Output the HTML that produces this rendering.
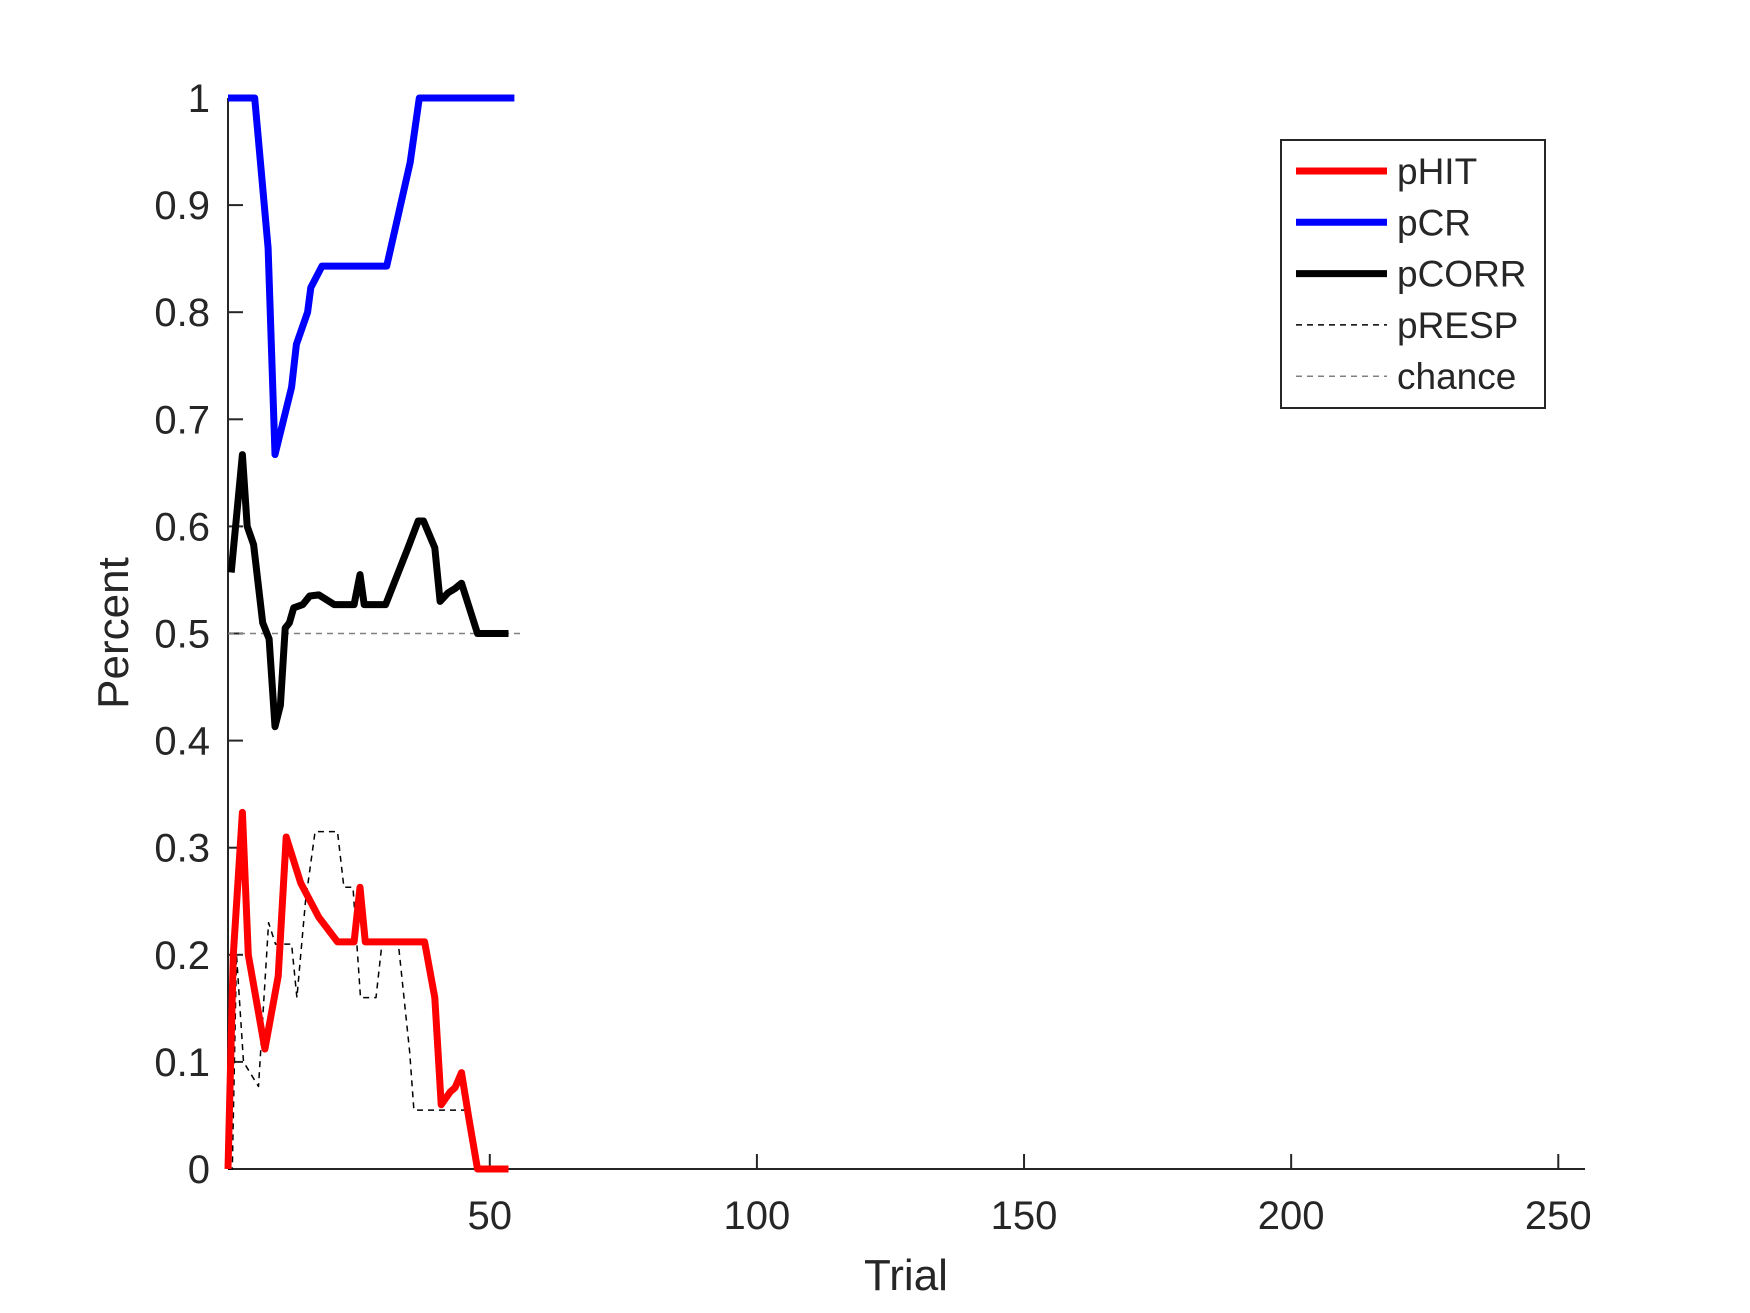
<!DOCTYPE html>
<html><head><meta charset="utf-8"><style>html,body{margin:0;padding:0;background:#fff}svg{display:block}text{font-family:"Liberation Sans",sans-serif;fill:#262626}</style></head>
<body>
<svg id="chart" width="1750" height="1313" viewBox="0 0 1750 1313" xmlns="http://www.w3.org/2000/svg">
<g id="axes"></g>
<g id="series"></g>
<g id="legend"></g>
</svg>
<script>
const xTicks = [50, 100, 150, 200, 250];
const yTicks = [0, 0.1, 0.2, 0.3, 0.4, 0.5, 0.6, 0.7, 0.8, 0.9, 1];
const yTickLabels = ["0","0.1","0.2","0.3","0.4","0.5","0.6","0.7","0.8","0.9","1"];
const pCR_x = [1,6,8.5,9.8,12.9,13.8,15.9,16.5,18.6,30.7,35.1,36.8,54.6];
const pCR_y = [1,1,0.86,0.667,0.73,0.77,0.80,0.823,0.843,0.843,0.94,1,1];
const pCORR_x = [1.6,3.7,4.6,5.8,7.5,8.7,9.8,10.8,11.7,12.5,13.3,15,16.3,18,20.9,24.6,25.7,26.5,30.5,34.7,36.6,37.6,39.7,40.7,42.2,43.5,44.7,47.7,53.5];
const pCORR_y = [0.557,0.667,0.60,0.583,0.51,0.495,0.413,0.433,0.505,0.51,0.524,0.527,0.535,0.536,0.527,0.527,0.555,0.527,0.527,0.58,0.605,0.605,0.58,0.53,0.538,0.542,0.547,0.5,0.5];
const pHIT_x = [1,2,3.7,4.8,7.9,10.4,11.9,14.6,18,21.5,24.6,25.7,26.7,37.8,39.7,40.9,42.6,43.5,44.7,46,47.7,53.5];
const pHIT_y = [0,0.2,0.333,0.2,0.112,0.18,0.31,0.267,0.235,0.212,0.212,0.263,0.212,0.212,0.16,0.06,0.072,0.076,0.09,0.05,0,0];
const pRESP_x = [1,1.8,2.6,3.9,6.7,8.6,9.9,12.9,13.9,15.5,17.3,21.5,22.7,24.4,25.8,28.7,29.8,32.9,35,35.8,46.2,47.2,53.5];
const pRESP_y = [0,0,0.2,0.1,0.077,0.23,0.21,0.21,0.16,0.25,0.315,0.315,0.263,0.263,0.16,0.16,0.21,0.21,0.11,0.055,0.055,0,0];
const chance_x = [1, 55.8];
const chance_y = [0.5, 0.5];
const legendLabels = ["pHIT","pCR","pCORR","pRESP","chance"];

const L=228,R=1585,T=98,B=1169,X0=1,X1=255;
const sx=v=>L+(v-X0)/(X1-X0)*(R-L);
const sy=v=>B-v*(B-T);
const NS="http://www.w3.org/2000/svg";
function mk(tag,attrs,parent){const e=document.createElementNS(NS,tag);for(const k in attrs)e.setAttribute(k,attrs[k]);parent.appendChild(e);return e;}
const axes=document.getElementById('axes'),series=document.getElementById('series'),legend=document.getElementById('legend');

let a=mk('line',{x1:L,y1:B,x2:R,y2:B,stroke:'#262626','stroke-width':2},axes);

a=mk('line',{x1:L,y1:T,x2:L,y2:B,stroke:'#262626','stroke-width':2},axes);

xTicks.forEach(v=>{
 const t=mk('line',{x1:sx(v),y1:B,x2:sx(v),y2:B-15,stroke:'#262626','stroke-width':2},axes);
 
 const l=mk('text',{x:sx(v),y:B+60,'text-anchor':'middle','font-size':40},axes);l.textContent=v;
 
});
yTicks.forEach((v,i)=>{
 const t=mk('line',{x1:L,y1:sy(v),x2:L+15,y2:sy(v),stroke:'#262626','stroke-width':2},axes);
 
 const l=mk('text',{x:L-18,y:sy(v)+14,'text-anchor':'end','font-size':40},axes);l.textContent=yTickLabels[i];
 
});
let xt=mk('text',{x:906,y:1290,'text-anchor':'middle','font-size':44},axes);xt.textContent='Trial';

let yt=mk('text',{x:0,y:0,'text-anchor':'middle','font-size':44,transform:'translate(128,633) rotate(-90)'},axes);yt.textContent='Percent';


function line(xs,ys,stroke,w,dash,name){
 const pts=xs.map((x,i)=>sx(x).toFixed(1)+','+sy(ys[i]).toFixed(1)).join(' ');
 const p=mk('polyline',{points:pts,fill:'none',stroke:stroke,'stroke-width':w,'stroke-linejoin':'round'},series);
 if(dash)p.setAttribute('stroke-dasharray',dash);
 
}
line(chance_x,chance_y,'#808080',1.5,'6,5','chance-line');
line(pRESP_x,pRESP_y,'#000',1.5,'6,5','presp-line');
line(pCR_x,pCR_y,'#0000ff',7,null,'pcr-line');
line(pCORR_x,pCORR_y,'#000',7,null,'pcorr-line');
line(pHIT_x,pHIT_y,'#ff0000',7,null,'phit-line');

let box=mk('rect',{x:1281,y:140,width:264,height:268,fill:'#fff',stroke:'#262626','stroke-width':2},legend);

const lstyles=[['#ff0000',7,null],['#0000ff',7,null],['#000',7,null],['#000',1.5,'6,5'],['#808080',1.5,'6,5']];
legendLabels.forEach((lab,i)=>{
 const y=171+i*51.3;
 const ln=mk('line',{x1:1296,y1:y,x2:1387,y2:y,stroke:lstyles[i][0],'stroke-width':lstyles[i][1]},legend);
 if(lstyles[i][2])ln.setAttribute('stroke-dasharray',lstyles[i][2]);
 
 const tx=mk('text',{x:1397,y:y+13,'font-size':37},legend);tx.textContent=lab;
 
});
</script>
</body></html>
